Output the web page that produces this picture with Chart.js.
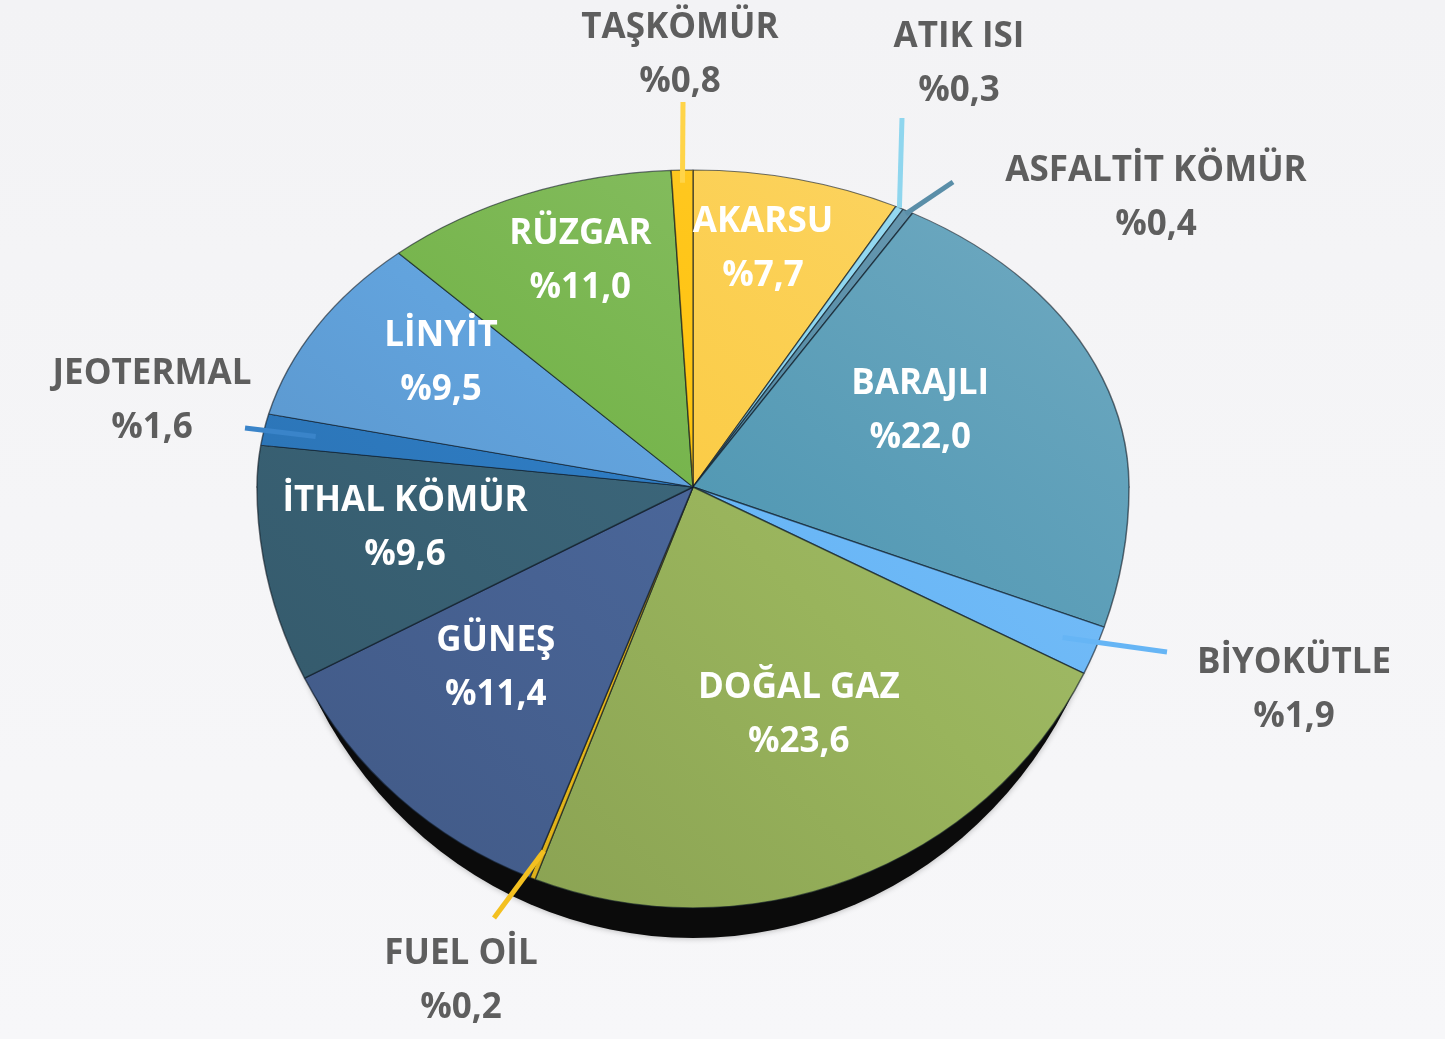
<!DOCTYPE html>
<html lang="tr">
<head>
<meta charset="utf-8">
<title>Kurulu Güç Dağılımı</title>
<script src="https://cdn.jsdelivr.net/npm/chart.js@4.4.1/dist/chart.umd.min.js"></script>
<style>
  html, body { margin: 0; padding: 0; }
  body { background: linear-gradient(180deg, #f3f3f5 0%, #f7f7f9 100%); }
  #wrap { width: 1445px; height: 1039px; }
</style>
</head>
<body>
<div id="wrap"><canvas id="pieChart" width="1445" height="1039"></canvas></div>
<script>
// kaynak bazında kurulu güç payları (%), saat yönünde, tepeden başlayarak
const sources = ['AKARSU', 'ATIK ISI', 'ASFALTİT KÖMÜR', 'BARAJLI', 'BİYOKÜTLE', 'DOĞAL GAZ',
  'FUEL OİL', 'GÜNEŞ', 'İTHAL KÖMÜR', 'JEOTERMAL', 'LİNYİT', 'RÜZGAR', 'TAŞKÖMÜR'];
const shares = [7.7, 0.3, 0.4, 22.0, 1.9, 23.6, 0.2, 11.4, 9.6, 1.6, 9.5, 11.0, 0.8];
const sliceColors = ['#fbcc46', '#86d3ee', '#4f88a3', '#5399b4', '#68b6f6', '#99b45c',
  '#f3c21c', '#4a6699', '#3b6579', '#2f7dc4', '#62a3dd', '#77b54d', '#ffc20a'];

// small slices get their label outside with a leader line:
// [label centre x, y, leader outer end x, y, leader inner radius factor]
const outsideLabels = {
  'TAŞKÖMÜR':       [680, 55, 683, 102, 0.96],
  'ATIK ISI':       [959, 64, 902, 118, 1.0],
  'ASFALTİT KÖMÜR': [1156, 198, 953, 182, 0.99],
  'JEOTERMAL':      [152, 401, 245, 428, 0.88],
  'BİYOKÜTLE':      [1294, 690, 1167, 652, 0.92],
  'FUEL OİL':       [461, 981, 494, 918, 0.93]
};
const leaderColors = {
  'TAŞKÖMÜR': '#ffd448', 'ATIK ISI': '#8fd6ee', 'ASFALTİT KÖMÜR': '#5a8ea8',
  'JEOTERMAL': '#3a84c9', 'BİYOKÜTLE': '#66b5f5', 'FUEL OİL': '#f3c020'
};

const kTop = 317 / 436;   // vertical squash of the far half
const kBottom = 421 / 436; // near half
const rimDrop = 10, rimExtra = 20, rimInset = 12;
const fontFamily = '"Open Sans", "Liberation Sans", sans-serif';

function shade(hex, amt) {
  const n = parseInt(hex.slice(1), 16);
  const t = amt < 0 ? 0 : 255, p = Math.abs(amt);
  const mix = v => Math.round(v + (t - v) * p);
  return 'rgb(' + mix(n >> 16) + ',' + mix((n >> 8) & 255) + ',' + mix(n & 255) + ')';
}

function pct(v) {
  return '%' + v.toFixed(1).replace('.', ',');
}

const tiltPlugin = {
  id: 'tilt',
  beforeDatasetsDraw(chart) {
    const ctx = chart.ctx;
    const meta = chart.getDatasetMeta(0);
    const arc = meta.data[0];
    const cx = arc.x, cy = arc.y, R = arc.outerRadius;

    // dark rim under the near edge
    const rx = R - rimInset, ry = R * kBottom + rimExtra;
    ctx.save();
    ctx.shadowColor = 'rgba(0,0,0,0.3)';
    ctx.shadowBlur = 6;
    ctx.fillStyle = '#0b0b0b';
    ctx.beginPath();
    ctx.ellipse(cx, cy + rimDrop, rx, R * kTop, 0, Math.PI, 2 * Math.PI);
    ctx.ellipse(cx, cy + rimDrop, rx, ry, 0, 0, Math.PI);
    ctx.closePath();
    ctx.fill();
    ctx.restore();

    const halves = [[0, cy + 0.5, kTop], [cy - 0.5, chart.height, kBottom]];
    halves.forEach(([y0, y1, k]) => {
      ctx.save();
      ctx.beginPath();
      ctx.rect(0, y0, chart.width, y1 - y0);
      ctx.clip();
      ctx.translate(cx, cy);
      ctx.scale(1, k);
      ctx.translate(-cx, -cy);
      meta.controller.draw();
      ctx.restore();
    });
    return false;
  },
  afterDraw(chart) {
    const ctx = chart.ctx;
    const meta = chart.getDatasetMeta(0);
    const cx = meta.data[0].x, cy = meta.data[0].y, R = meta.data[0].outerRadius;
    const lineGap = 54;

    ctx.save();
    ctx.font = 'bold 35px ' + fontFamily;
    ctx.textAlign = 'center';
    ctx.textBaseline = 'middle';

    meta.data.forEach((el, i) => {
      const name = sources[i];
      const mid = (el.startAngle + el.endAngle) / 2;
      const dx = Math.cos(mid), dy = Math.sin(mid);
      let tx, ty;
      const out = outsideLabels[name];
      if (out) {
        const r = R * out[4];
        const ix = cx + r * dx;
        const iy = cy + r * dy * (dy < 0 ? kTop : kBottom);
        ctx.strokeStyle = leaderColors[name];
        ctx.lineWidth = 5;
        ctx.beginPath();
        ctx.moveTo(out[2], out[3]);
        ctx.lineTo(ix, iy);
        ctx.stroke();
        tx = out[0]; ty = out[1];
        ctx.fillStyle = '#5e5e5e';
      } else {
        tx = cx + 0.67 * R * dx;
        ty = cy + 245 * dy;
        if (name === 'BARAJLI') { tx -= 47; ty += 8; }
        ctx.fillStyle = '#ffffff';
      }
      ctx.fillText(name, tx, ty - lineGap / 2);
      ctx.fillText(pct(shares[i]), tx, ty + lineGap / 2);
    });
    ctx.restore();
  }
};

const pieCanvas = document.getElementById('pieChart');
const pieChart = new Chart(pieCanvas, {
  type: 'pie',
  data: {
    labels: sources,
    datasets: [{
      data: shares,
      backgroundColor: function (c) {
        const base = sliceColors[c.dataIndex];
        const area = c.chart.chartArea;
        if (!area) return base;
        const g = c.chart.ctx.createLinearGradient(area.left, area.bottom, area.right, area.top);
        g.addColorStop(0, shade(base, -0.14));
        g.addColorStop(0.5, base);
        g.addColorStop(1, shade(base, 0.18));
        return g;
      },
      borderColor: 'rgba(15,25,35,0.6)',
      borderWidth: 1.5,
      hoverOffset: 0
    }]
  },
  options: {
    responsive: false,
    animation: false,
    events: [],
    radius: 436,
    layout: { padding: { left: 257, right: 316, top: 51, bottom: 116 } },
    plugins: {
      legend: { display: false },
      tooltip: { enabled: false }
    }
  },
  plugins: [tiltPlugin]
});
</script>
</body>
</html>
